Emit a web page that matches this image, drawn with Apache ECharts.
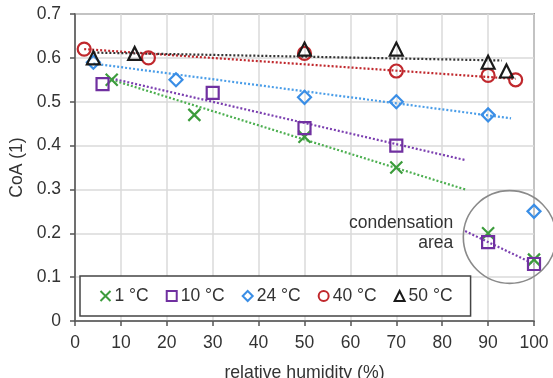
<!DOCTYPE html>
<html>
<head>
<meta charset="utf-8">
<script src="https://cdn.jsdelivr.net/npm/echarts@6/dist/echarts.min.js"></script>
<style>
html,body{margin:0;padding:0;background:#fff;}
#c{width:553px;height:378px;}
</style>
</head>
<body>
<div id="c"></div>
<script>
// ---- data ----
const seriesNames = ['1 °C', '10 °C', '24 °C', '40 °C', '50 °C'];
const rh1 = [8, 26, 50, 70, 90, 100];
const coa1 = [0.55, 0.47, 0.42, 0.35, 0.20, 0.14];
const rh10 = [6, 30, 50, 70, 90, 100];
const coa10 = [0.54, 0.52, 0.44, 0.40, 0.18, 0.13];
const rh24 = [4, 22, 50, 70, 90, 100];
const coa24 = [0.59, 0.55, 0.51, 0.50, 0.47, 0.25];
const rh40 = [2, 16, 50, 70, 90, 96];
const coa40 = [0.62, 0.60, 0.61, 0.57, 0.56, 0.55];
const rh50 = [4, 13, 50, 70, 90, 94];
const coa50 = [0.60, 0.61, 0.62, 0.62, 0.59, 0.57];

// trend lines (endpoints)
const trend1 = [[8, 0.55], [85, 0.30]];
const trend10 = [[8, 0.553], [85, 0.367]];
const trend10cond = [[85, 0.205], [100, 0.13]];
const trend24 = [[4, 0.587], [95, 0.462]];
const trend40 = [[2, 0.620], [96, 0.552]];
const trend50 = [[4, 0.612], [93, 0.594]];

// annotation
const condCircle = [[94.7, 0.1915, 10.1]];
const condLabels = [['condensation', 82.4, 0.224], ['area', 82.4, 0.178]];

const xTicks = [0, 10, 20, 30, 40, 50, 60, 70, 80, 90, 100];
const yTicks = [0, 0.1, 0.2, 0.3, 0.4, 0.5, 0.6, 0.7];

const colors = ['#3c9c3c', '#7030a0', '#3a8ee6', '#c0282d', '#1a1a1a'];
const trendColors = ['#4caf50', '#7b3fb0', '#4a9de8', '#c0282d', '#333333'];
const symbols = ['path://M0,0L10,10M10,0L0,10', 'rect', 'diamond', 'circle', 'triangle'];
const symbolSizes = [12, 12, 13, 13, 13];

function zip(a, b) { return a.map((v, i) => [v, b[i]]); }
const pts = [zip(rh1, coa1), zip(rh10, coa10), zip(rh24, coa24), zip(rh40, coa40), zip(rh50, coa50)];
const trends = [[trend1, 0], [trend10, 1], [trend10cond, 1], [trend24, 2], [trend40, 3], [trend50, 4]];

const font = '"Liberation Sans", Arial, sans-serif';
const chart = echarts.init(document.getElementById('c'), null, {renderer: 'canvas'});

const series = [];
trends.forEach(([d, ci], k) => {
  series.push({
    name: 'trend' + k, type: 'line', data: d, showSymbol: false, symbol: 'none',
    lineStyle: {color: trendColors[ci], width: 2.2, type: [2, 2]}, z: 2, silent: true
  });
});
pts.forEach((d, i) => {
  series.push({
    name: seriesNames[i], type: 'scatter', data: d,
    symbol: symbols[i], symbolSize: symbolSizes[i],
    itemStyle: {color: i === 0 ? 'none' : 'rgba(255,255,255,0)', borderColor: colors[i], borderWidth: 2.2, opacity: 1},
    z: 3
  });
});
series.push({
  name: 'circle', type: 'custom', data: condCircle, silent: true, z: 4,
  renderItem: function (params, api) {
    const c = api.coord([api.value(0), api.value(1)]);
    const r = api.size([api.value(2), 0])[0];
    return {type: 'circle', shape: {cx: c[0], cy: c[1], r: r},
      style: {fill: 'none', stroke: '#8a8a8a', lineWidth: 1.6}};
  }
});
series.push({
  name: 'labels', type: 'custom', data: condLabels, silent: true, z: 4,
  encode: {x: 1, y: 2},
  renderItem: function (params, api) {
    const d = condLabels[params.dataIndex];
    const c = api.coord([d[1], d[2]]);
    return {type: 'text', x: c[0], y: c[1],
      style: {text: d[0], fill: '#333', font: '17.5px ' + font, align: 'right', verticalAlign: 'middle'}};
  }
});

chart.setOption({
  animation: false,
  backgroundColor: '#fff',
  textStyle: {fontFamily: font},
  grid: {left: 75, right: 19, top: 14, bottom: 57, show: true, borderColor: '#555', borderWidth: 1.5,
    backgroundColor: 'transparent', containLabel: false, outerBoundsMode: 'none'},
  xAxis: {
    type: 'value', min: xTicks[0], max: xTicks[xTicks.length - 1], interval: 10,
    name: 'relative humidity (%)', nameLocation: 'middle', nameGap: 43,
    nameTextStyle: {fontSize: 17.7, color: '#333', fontFamily: font},
    axisLine: {show: true, lineStyle: {color: '#555', width: 1.5}},
    axisTick: {show: true, length: 5, lineStyle: {color: '#555', width: 1.5}},
    axisLabel: {fontSize: 17.5, color: '#333', margin: 13, fontFamily: font},
    splitLine: {show: true, lineStyle: {color: '#dadada', width: 1.5}}
  },
  yAxis: {
    type: 'value', min: yTicks[0], max: yTicks[yTicks.length - 1], interval: 0.1,
    name: 'CoA (1)', nameLocation: 'middle', nameGap: 47,
    nameTextStyle: {fontSize: 17.5, color: '#333', fontFamily: font},
    axisLine: {show: true, lineStyle: {color: '#555', width: 1.5}},
    axisTick: {show: true, length: 5, lineStyle: {color: '#555', width: 1.5}},
    axisLabel: {fontSize: 17.5, color: '#333', margin: 14, fontFamily: font,
      formatter: v => (Math.round(v * 10) / 10).toString()},
    splitLine: {show: true, lineStyle: {color: '#dadada', width: 1.5}}
  },
  legend: {
    data: seriesNames, left: 80, top: 276, orient: 'horizontal',
    padding: [11, 18], itemGap: 17, itemWidth: 10, itemHeight: 10,
    backgroundColor: '#fff', borderColor: '#444', borderWidth: 1.5, borderRadius: 0,
    textStyle: {fontSize: 17.5, color: '#333', fontFamily: font, padding: [0, 0, 0, -1]},
    selectedMode: false, z: 10
  },
  series: series
});
</script>
</body>
</html>
